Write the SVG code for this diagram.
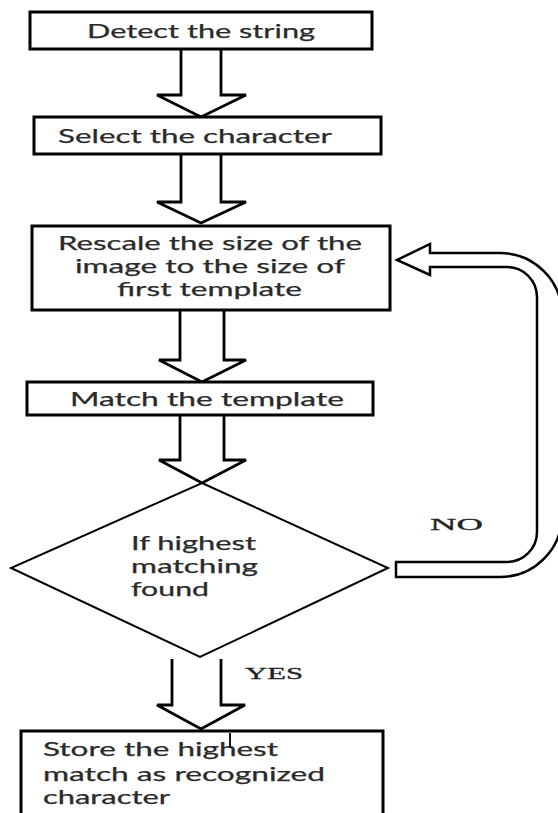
<svg xmlns="http://www.w3.org/2000/svg" width="558" height="813" viewBox="0 0 558 813">
<style>
.box{fill:#fff;stroke:#000;stroke-width:3}
.arr{fill:#fff;stroke:#000;stroke-width:2.8;stroke-linejoin:miter}
.dia{fill:#fff;stroke:#000;stroke-width:2}
.loop{fill:#fff;stroke:#000;stroke-width:2.5}
.t{font-family:Lato,"Noto Sans","Liberation Sans",sans-serif;font-size:20px;fill:#2a2a2a;stroke:#2a2a2a;stroke-width:0.25}
.t18{font-family:Lato,"Noto Sans","Liberation Sans",sans-serif;font-size:19px;fill:#2a2a2a;stroke:#2a2a2a;stroke-width:0.25}
.lbl{font-family:"Liberation Serif","Times New Roman",serif;font-size:17px;fill:#222;stroke:#222;stroke-width:0.3}
</style>
<rect width="558" height="813" fill="#fff"/>
<g id="connectors">
<path class="arr" d="M181 49 V95 H157 L201 117 L246 95 H221 V49"/>
<path class="arr" d="M181 154 V202 H157 L201 223 L246 202 H221 V154"/>
<path class="arr" d="M180 310 V360 H159 L202 382 L246 360 H224 V310"/>
<path class="arr" d="M180 415 V460 H159 L202 483 L246 460 H224 V415"/>
<path class="arr" d="M172 659 V705 H157 L201 729 L245 705 H221 V659"/>
<path class="loop" d="M396 577 H500 A62 62 0 0 0 562 515 V315 A62 62 0 0 0 500 253 H430 V244 L397 260 L430 275 V267 H507 A30 30 0 0 1 537 297 V532 A30 30 0 0 1 507 562 H396 Z"/>
<text class="lbl" x="430" y="530" textLength="53" lengthAdjust="spacingAndGlyphs">NO</text>
<text class="lbl" x="245" y="679" textLength="58" lengthAdjust="spacingAndGlyphs">YES</text>
</g>
<g id="n1">
<rect class="box" x="30" y="12" width="342" height="37"/>
<text class="t" x="87" y="38" textLength="228" lengthAdjust="spacingAndGlyphs">Detect the string</text>
</g>
<g id="n2">
<rect class="box" x="34" y="117" width="347" height="37"/>
<text class="t" x="58" y="143" textLength="274" lengthAdjust="spacingAndGlyphs">Select the character</text>
</g>
<g id="n3">
<rect class="box" x="32" y="226" width="358" height="84"/>
<text class="t" x="58" y="250" textLength="304" lengthAdjust="spacingAndGlyphs">Rescale the size of the</text>
<text class="t" x="75" y="273" textLength="270" lengthAdjust="spacingAndGlyphs">image to the size of</text>
<text class="t" x="117" y="296" textLength="185" lengthAdjust="spacingAndGlyphs">first template</text>
</g>
<g id="n4">
<rect class="box" x="27" y="382" width="346" height="33"/>
<text class="t" x="70" y="406" textLength="274" lengthAdjust="spacingAndGlyphs">Match the template</text>
</g>
<g id="n5">
<polygon class="dia" points="202,483 388,568 200,657 11,568"/>
<text class="t18" x="131" y="550" textLength="125" lengthAdjust="spacingAndGlyphs">If highest</text>
<text class="t18" x="131" y="573" textLength="127" lengthAdjust="spacingAndGlyphs">matching</text>
<text class="t18" x="131" y="596" textLength="78" lengthAdjust="spacingAndGlyphs">found</text>
</g>
<g id="n6">
<rect class="box" x="21" y="731" width="362" height="95"/>
<text class="t18" x="43" y="756" textLength="235" lengthAdjust="spacingAndGlyphs">Store the highest</text>
<text class="t18" x="43" y="781" textLength="282" lengthAdjust="spacingAndGlyphs">match as recognized</text>
<text class="t18" x="43" y="804" textLength="127" lengthAdjust="spacingAndGlyphs">character</text>
<line x1="230" y1="733" x2="230" y2="748" stroke="#000" stroke-width="1.8"/>
</g>
</svg>
